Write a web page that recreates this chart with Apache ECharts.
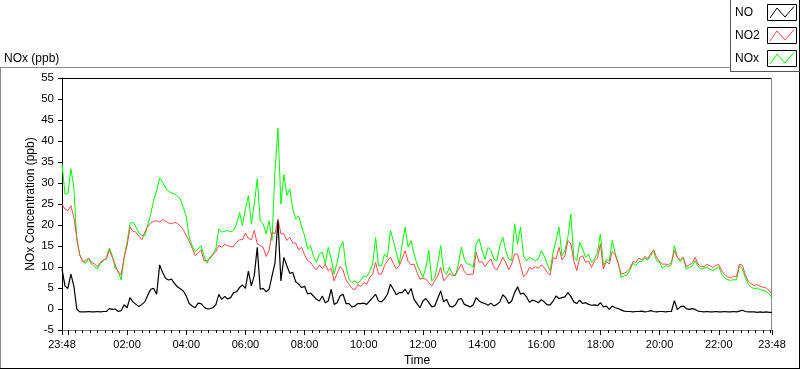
<!DOCTYPE html>
<html><head><meta charset="utf-8">
<script src="https://cdn.jsdelivr.net/npm/echarts@6/dist/echarts.min.js"></script>
<style>html,body{margin:0;padding:0;background:#fff}#c{width:800px;height:369px}</style>
</head><body><div id="c"></div>
<script>
// ---- data ----
const seriesNames = ['NO', 'NO2', 'NOx'];
const seriesColors = ['#000000', '#ff4848', '#00ff00'];
const startMinute = -12;   // 23:48 of the previous day
const stepMinutes = 6;     // sampling step of the value arrays
const endMinute = 1428;    // 23:48

const no = [9.5,5.5,4.9,8.3,5.5,0,-0.7,-0.7,-0.7,-0.6,
-0.7,-0.7,-0.6,-0.7,-0.6,-0.6,0.1,-0.1,0,-0.6,
-0.4,1,0.3,2.7,1.7,1.1,0.6,1.1,1.7,3.3,
4.7,4.9,3.5,10.5,8.7,7.3,6.9,7.1,6.1,5.3,
4.8,4.3,3.1,1.3,0.7,0.3,1.4,1.3,0.5,0,
0.1,0.3,1,3.5,2.3,3,2.4,2.7,3.9,4.1,
5.1,5.7,4.9,9,5.5,8,14.7,4.7,4.9,4.1,
4.7,7.9,11,21,6.7,12.3,10.3,8.5,8.7,6.5,
5.9,5.1,5.4,3.6,3.8,3.1,2.3,1.9,3.1,1.5,
1.9,4.7,1.1,1.5,3.1,3.5,1.3,1.3,0.5,0.7,
1.3,1.3,1.4,1.1,1.9,2.7,3.5,1.9,1.7,2.4,
3.5,5.9,4.7,3.4,3.9,3.9,4.7,3.5,4.9,2.3,
1.3,0.3,1.9,2.5,1.5,0.5,0.7,2.5,4.3,1.7,
2.3,0.7,0.5,1,2.3,2.5,1.1,0.8,0.5,1,
2.7,1.9,1.5,1.3,0.9,1.4,0.7,1.1,1.7,3.4,
2.7,1.3,1.9,3.9,5.3,3.5,3.8,2.9,1.6,2.1,
1.9,1.5,2.2,1.7,1,1,1.9,3.1,2.5,2.7,
2.9,3.9,3,1.7,1.3,2.1,1.3,1.5,1.1,0.9,
1,0.8,1.5,0.5,0.7,-0.1,0.7,0.3,0.1,-0.2,
-0.5,-0.6,-0.6,-0.7,-0.6,-0.6,-0.5,-0.7,-0.6,-0.4,
-0.6,-0.7,-0.6,-0.6,-0.7,-0.6,-0.6,2,-0.1,0.5,
0.7,0.1,-0.1,0.1,-0.1,-0.5,-0.6,-0.7,-0.6,-0.7,
-0.7,-0.6,-0.7,-0.7,-0.6,-0.7,-0.7,-0.6,-0.7,-0.5,
-0.3,-0.6,-0.7,-0.7,-0.7,-0.8,-0.7,-0.8,-0.7,-0.8,-0.8];

const no2 = [25,23.8,23.4,24.6,21.8,17.1,12.9,11.3,11.5,12.1,
11.1,10.7,10.1,11.1,11.7,11.9,14.1,12.3,10.5,8.7,
8.2,12.3,15.1,19.5,18.5,18.3,17.3,16.5,18.3,19.7,
20.5,20.9,21,20.7,21.3,20.9,20.5,20.3,20.6,20.4,
19.8,18.9,17.5,16.1,14.5,12.7,13.4,14.1,11.5,11.5,
12.1,12.9,13.7,15.1,14.7,15.4,15.1,14.8,14.9,15.9,
16.5,16.5,18.1,16.8,16.5,18.7,15.5,15.1,14.7,12.5,
13.9,18.3,17.9,21.4,17.9,17.9,16.3,17.1,15.7,15.7,
14.1,14.7,12.9,11.5,11.1,10.1,9.3,10.5,9.6,10.7,
9.1,9.7,6.7,8.5,10.1,9.3,6.9,5.9,4.9,4.6,
5.8,5.4,6.3,5.9,7.5,8.3,11.1,8.3,8.3,10.3,
11.5,12.3,10.9,9.5,10.3,12.1,13.9,11.3,10.5,10.7,
8.7,7.1,7.3,7.1,6.3,5.5,6.7,7.9,9.9,6.7,
7.5,8.5,7.9,8.1,9.5,10.7,8.9,8.1,8.3,8.3,
13.5,11.1,11.3,10.1,11.1,11.9,9.9,9.3,10.7,12.3,
11.1,9.3,10.7,13.1,13.1,10.3,7.7,8.3,9.9,9.5,
10.1,9.7,10.5,9.9,8.7,8.1,12.3,11.9,14.7,11.7,
12.7,16.3,15.5,11.5,9.1,12.3,12.7,11.1,11.5,9.9,
11.5,12.1,15.5,9.5,11.3,10.7,13.7,12.9,10.9,8.3,
8.5,8.9,9.7,11.3,11.1,12.1,11.7,12.5,12,13.1,
14.1,12.3,11.3,10.7,10.7,10.5,11.1,13.9,12.3,11.7,
12.3,10.1,10.5,10.9,12.3,10.7,10.1,10.1,10.6,10.3,
9.9,10.4,10.6,9.1,8.2,7.7,7.4,7.8,7.7,10.7,
10.4,8.1,6.6,6,5.6,5.8,5.4,5.2,5,4.4,3.5];

const nox = [34.6,27.4,27.4,33.4,29,16.3,12.9,11.3,10.9,12.1,
10.7,10.1,9.5,10.9,11.5,12.2,14.5,12.7,9.7,9.1,
6.9,12.3,15.9,20.3,20.7,19.5,18.1,17.5,17.5,20.1,
22.6,26,28.2,31.2,30.2,28.8,28,27.7,27.4,26.9,
26.2,24.2,22,17.1,15.1,13.7,14.3,15.1,12.7,10.9,
12.3,13.1,14.3,19.1,18.3,18.5,18.7,18.3,18.8,20.1,
23,19.9,23.8,27,20.3,25,31,21,20.3,17.9,
21,16.3,33,43,25,32,27,28.6,23.8,21.4,
22.2,19.5,17.5,14.3,15.1,12.5,11.1,13.1,13.5,10.7,
14.7,11.9,8.3,11.1,14.7,16,10.1,7.1,6.3,6.7,
6.1,6.9,7.9,7.7,8.9,10.7,17,10.3,10.3,13.1,
12.3,18.7,16.3,13.5,10.7,15.5,19.5,14.7,16.3,13.1,
10.7,9.1,7.5,9.9,13.9,6.7,7.5,10.7,15.1,9.1,
8.3,9.9,8.3,7.9,10.7,14.7,11.9,10.7,10.7,9.9,
15.5,16.7,13.9,11.9,14.7,13.9,11.9,11.5,15.1,17.1,
13.9,11.9,11.5,20.3,15.5,19.5,12.7,11.5,12.3,11.9,
11.5,11.9,13.9,12.7,10.7,9.1,13.5,16.3,19.5,12.7,
13.9,17.1,22.6,12.3,11.5,15.9,14.3,12.3,13.1,11.1,
11.9,13.5,17.9,10.3,11.7,11.5,16.3,13.3,11.1,7.5,
7.9,8.1,9.3,10.9,10.3,11.3,11.3,12.1,11.7,12.7,
13.7,11.5,11.1,9.7,10.3,10.1,10.5,15.1,12.3,11.3,
12.3,9.5,9.9,10.2,11.5,10.1,9.5,9.7,9.9,9.5,
9.1,9.6,10,8.3,7.4,7,6.8,7,6.9,10.3,
9.6,7.4,5.9,5.2,4.8,5,4.6,4.4,4.2,3.6,2.7];

const xLabelValues = [-12,120,240,360,480,600,720,840,960,1080,1200,1320,1428];
const xMajorTickValues = [-12,0,120,240,360,480,600,720,840,960,1080,1200,1320,1428];
const yMin = -5, yMax = 55, yInterval = 5;
const chartTitle = 'NOx (ppb)';
const yName = 'NOx Concentration (ppb)';
const xName = 'Time';

// ---- build ----
const xMinorTickValues = [];
for (let m = 15; m < endMinute; m += 15) { if (m % 120 !== 0) xMinorTickValues.push(m); }
function pairs(arr) { return arr.map((v, i) => [startMinute + i * stepMinutes, v]); }
function fmtTime(v) {
  const m = ((Math.round(v) % 1440) + 1440) % 1440;
  const h = Math.floor(m / 60), mm = m % 60;
  return (h < 10 ? '0' : '') + h + ':' + (mm < 10 ? '0' : '') + mm;
}
const FONT = 'Liberation Sans';
const valuesByName = { 'NO': no, 'NO2': no2, 'NOx': nox };

const graphics = [
  { type: 'text', x: 4, y: 59, style: { text: chartTitle, fill: '#000', fontSize: 12, fontFamily: FONT, verticalAlign: 'middle', align: 'left' } },
  { type: 'text', x: 31, y: 204, rotation: Math.PI / 2, style: { text: yName, fill: '#000', fontSize: 12, fontFamily: FONT, verticalAlign: 'middle', align: 'center' } },
  { type: 'text', x: 417, y: 361, style: { text: xName, fill: '#000', fontSize: 12, fontFamily: FONT, verticalAlign: 'middle', align: 'center' } },
  // outer frame
  { type: 'line', shape: { x1: 0, y1: 67.5, x2: 730, y2: 67.5 }, style: { stroke: '#8c8c8c', lineWidth: 1 } },
  { type: 'line', shape: { x1: 0.5, y1: 67.5, x2: 0.5, y2: 369 }, style: { stroke: '#8c8c8c', lineWidth: 1 } },
  { type: 'line', shape: { x1: 0, y1: 368.5, x2: 800, y2: 368.5 }, style: { stroke: '#000', lineWidth: 1 } },
  { type: 'line', shape: { x1: 799.5, y1: 0, x2: 799.5, y2: 369 }, style: { stroke: '#000', lineWidth: 1 } },
  // legend frame
  { type: 'line', shape: { x1: 730.5, y1: 0, x2: 730.5, y2: 72 }, style: { stroke: '#555', lineWidth: 1 } },
  { type: 'line', shape: { x1: 730, y1: 71.5, x2: 800, y2: 71.5 }, style: { stroke: '#555', lineWidth: 1 } },
  // plot frame top / right
  { type: 'line', shape: { x1: 62, y1: 78.5, x2: 772, y2: 78.5 }, style: { stroke: '#000', lineWidth: 1 } },
  { type: 'line', shape: { x1: 771.5, y1: 78, x2: 771.5, y2: 330 }, style: { stroke: '#8c8c8c', lineWidth: 1 } }
];
seriesNames.forEach((name, k) => {
  const cy = 13 + k * 23;
  const by = 4.5 + k * 23;
  graphics.push({ type: 'text', x: 735, y: cy, style: { text: name, fill: '#000', fontSize: 12, fontFamily: FONT, verticalAlign: 'middle', align: 'left' } });
  graphics.push({ type: 'rect', shape: { x: 767.5, y: by, width: 29, height: 16 }, style: { fill: '#fff', stroke: '#000', lineWidth: 1 } });
  graphics.push({ type: 'polyline', shape: { points: [[770, by + 13.5], [777, by + 3.5], [785, by + 12.5], [794, by + 2]] }, style: { stroke: seriesColors[k], lineWidth: 1, fill: null } });
});

const drawOrder = ['NOx', 'NO2', 'NO'];
const series = drawOrder.map(name => ({
  name: name, type: 'line', xAxisIndex: 0, yAxisIndex: 0,
  data: pairs(valuesByName[name]),
  showSymbol: false, symbol: 'none', silent: true,
  lineStyle: { width: name === 'NO' ? 1.2 : 1, color: seriesColors[seriesNames.indexOf(name)] },
  itemStyle: { color: seriesColors[seriesNames.indexOf(name)] },
  emphasis: { disabled: true }
}));

const option = {
  animation: false,
  backgroundColor: '#ffffff',
  grid: { left: 62, right: 28, top: 78, bottom: 39, containLabel: false },
  xAxis: [{
    type: 'value', min: startMinute, max: endMinute, position: 'bottom',
    axisLine: { show: true, onZero: false, lineStyle: { color: '#808080', width: 1 } },
    axisTick: { show: true, customValues: xMajorTickValues, length: 5, lineStyle: { color: '#000' } },
    axisLabel: { show: true, customValues: xLabelValues, formatter: fmtTime, margin: 9, fontFamily: FONT, fontSize: 11, color: '#000' },
    splitLine: { show: false }
  }, {
    type: 'value', min: startMinute, max: endMinute, position: 'bottom',
    axisLine: { show: false, onZero: false },
    axisTick: { show: true, customValues: xMinorTickValues, length: 3, lineStyle: { color: '#000' } },
    axisLabel: { show: false }, splitLine: { show: false }
  }],
  yAxis: {
    type: 'value', min: yMin, max: yMax, interval: yInterval,
    axisLine: { show: true, onZero: false, lineStyle: { color: '#000', width: 1 } },
    axisTick: { show: true, length: 4, lineStyle: { color: '#000' } },
    axisLabel: { margin: 8, fontFamily: FONT, fontSize: 11.5, color: '#000' },
    splitLine: { show: false }
  },
  graphic: { elements: graphics },
  series: series
};
const chart = echarts.init(document.getElementById('c'), null, { renderer: 'canvas' });
chart.setOption(option);
</script></body></html>
